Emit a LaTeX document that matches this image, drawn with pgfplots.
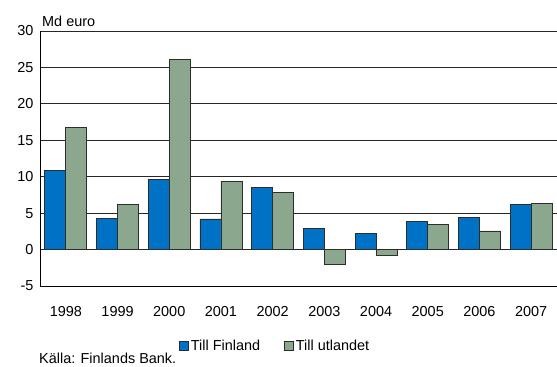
\documentclass[border=0pt]{standalone}
\usepackage{fontspec}
\setmainfont{Liberation Sans}
\usepackage{pgfplots}
\pgfplotsset{compat=1.18}

\definecolor{finblue}{RGB}{0,114,198}
\definecolor{abroadgreen}{RGB}{139,168,142}
\definecolor{barline}{RGB}{45,45,45}

\begin{document}
\begin{tikzpicture}[font=\fontsize{14.5}{17}\selectfont]
\useasboundingbox (-40bp,-81bp) rectangle (517bp,286bp);
\begin{axis}[
  scale only axis,
  width=517bp, height=255bp,
  ymin=-5, ymax=30,
  ytick={-5,0,5,10,15,20,25,30},
  xmin=-0.5, xmax=9.5,
  xtick={0,...,9},
  xticklabels={1998,1999,2000,2001,2002,2003,2004,2005,2006,2007},
  axis x line*=bottom,
  axis y line*=left,
  axis line style={black, line width=0.9bp},
  major tick length=0pt,
  ymajorgrids,
  major grid style={black!85, line width=0.8bp},
  /pgf/number format/assume math mode=true,
  yticklabel style={xshift=-3bp},
  xticklabel style={yshift=-17bp},
  ybar=0pt,
  bar width=21bp,
  every axis plot/.append style={draw=barline, line width=0.8bp},
  legend columns=2,
  legend style={
    at={(axis description cs:0.455,-0.235)}, anchor=center,
    draw=none, fill=none,
    /tikz/every even column/.append style={column sep=22bp},
  },
  legend image code/.code={
    \draw[#1, line width=0.7bp] (0bp,-4.5bp) rectangle (9bp,4.5bp);
  },
  clip=false,
]
% Till Finland
\addplot[fill=finblue] coordinates {
  (0,10.9) (1,4.3) (2,9.6) (3,4.2) (4,8.55)
  (5,2.9) (6,2.25) (7,3.8) (8,4.35) (9,6.2)
};
% Till utlandet
\addplot[fill=abroadgreen] coordinates {
  (0,16.8) (1,6.2) (2,26.1) (3,9.4) (4,7.9)
  (5,-2.05) (6,-0.85) (7,3.4) (8,2.55) (9,6.35)
};
\legend{Till Finland, Till utlandet}
\end{axis}
\node[anchor=base west, inner sep=0pt] at (2bp,259bp) {Md euro};
\node[anchor=base west, inner sep=0pt] at (-1bp,-77bp) {Källa: Finlands Bank.};
\end{tikzpicture}
\end{document}
